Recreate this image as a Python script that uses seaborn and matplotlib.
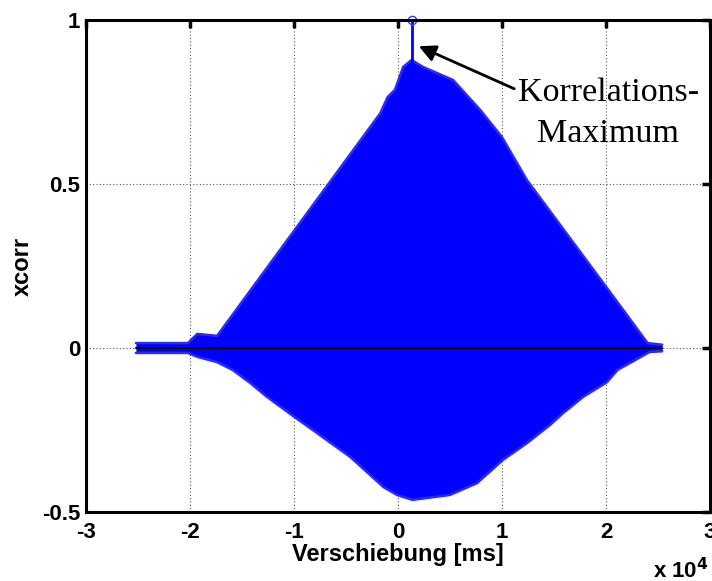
import numpy as np
import pandas as pd
import matplotlib
matplotlib.use("Agg")
import matplotlib.pyplot as plt
import seaborn as sns

# Envelope of the cross-correlation stem plot (x in samples/ms, y = xcorr)
upper_x = [-25200, -20200, -19300, -17400, -1700, -1000, -300, 500, 1300, 2400,
           5300, 7900, 10000, 12400, 21100, 24000, 25400]
upper_y = [0.015, 0.015, 0.043, 0.037, 0.716, 0.765, 0.787, 0.857, 0.878, 0.857,
           0.817, 0.726, 0.643, 0.512, 0.140, 0.015, 0.010]
lower_x = [-25200, -20200, -19300, -17400, -15900, -14200, -12600, -10100, -7800,
           -4600, -1400, -100, 1400, 5000, 7600, 10100, 12400, 14600, 15900, 17800,
           20100, 21100, 24200, 25400]
lower_y = [-0.015, -0.015, -0.027, -0.043, -0.067, -0.107, -0.149, -0.207, -0.259,
           -0.332, -0.424, -0.448, -0.463, -0.448, -0.412, -0.341, -0.290, -0.235,
           -0.198, -0.149, -0.104, -0.067, -0.012, -0.010]
peak_x = [1350]
peak_y = [1.0]
x_ticks = [-30000, -20000, -10000, 0, 10000, 20000, 30000]
x_tick_labels = ["-3", "-2", "-1", "0", "1", "2", "3"]
y_ticks = [-0.5, 0, 0.5, 1]
y_tick_labels = ["-0.5", "0", "0.5", "1"]

sns.set_style("white")
plt.rcParams['font.family'] = ['Liberation Sans', 'DejaVu Sans']
plt.rcParams['text.color'] = 'black'
plt.rcParams['axes.labelcolor'] = 'black'
plt.rcParams['xtick.color'] = 'black'
plt.rcParams['ytick.color'] = 'black'

fig = plt.figure(figsize=(7.12, 5.81), dpi=100)
ax = fig.add_axes([86/712, 69/581, 624/712, 492/581])

blue = "#0000ff"
xs = np.array(sorted(set(upper_x) | set(lower_x)), dtype=float)
up = np.interp(xs, upper_x, upper_y)
lo = np.interp(xs, lower_x, lower_y)
ax.fill_between(xs, lo, up, color=blue, linewidth=0, zorder=2)

df_up = pd.DataFrame({"x": upper_x, "y": upper_y})
df_lo = pd.DataFrame({"x": lower_x, "y": lower_y})
sns.lineplot(data=df_up, x="x", y="y", ax=ax, color="#2a2aff", linewidth=1.8, zorder=2)
sns.lineplot(data=df_lo, x="x", y="y", ax=ax, color="#2a2aff", linewidth=1.8, zorder=2)

# peak stem
ax.plot([peak_x[0], peak_x[0]], [0.85, peak_y[0]], color=blue, lw=2, zorder=3)
ax.plot(peak_x, peak_y, marker="o", mfc="none", mec="#3a3aff", ms=6, mew=1, zorder=4,
        clip_on=False)

# baseline
ax.plot([upper_x[0], upper_x[-1]], [0, 0], color="black", lw=1.5, zorder=3)

ax.set_xlim(-30000, 30000)
ax.set_ylim(-0.5, 1)
ax.set_xticks(x_ticks)
ax.set_xticklabels(x_tick_labels)
ax.set_yticks(y_ticks)
ax.set_yticklabels(y_tick_labels)
ax.grid(True, color="#555555", linestyle=(0, (1, 2)), linewidth=0.8, zorder=1)
ax.set_axisbelow(True)
ax.tick_params(direction="in", length=6, width=2.5, top=True, right=True,
               labelsize=16, color="black", labelcolor="black")
ax.tick_params(axis="x", pad=7)
ax.tick_params(axis="y", pad=4)
for lab in ax.get_xticklabels() + ax.get_yticklabels():
    lab.set_fontweight("bold")
for s in ax.spines.values():
    s.set_linewidth(2.2)
    s.set_color("black")
    s.set_zorder(5)

ax.set_xlabel("Verschiebung [ms]", fontsize=17, fontweight="bold", labelpad=0,
              color="black")
ax.set_ylabel("xcorr", fontsize=17, fontweight="bold", labelpad=6, color="black")
fig.text(653/712, 3/581, r"x 10$^{\mathbf{4}}$", fontsize=16, fontweight="bold",
         va="baseline", ha="left", color="black")

ax.annotate("Korrelations-\nMaximum", xy=(2000, 0.92), xytext=(20200, 0.716),
            ha="center", va="center", fontsize=24.5, family=["Liberation Serif"],
            linespacing=1.45, color="black",
            arrowprops=dict(arrowstyle="-|>", color="black", lw=2, mutation_scale=25,
                            shrinkA=0, shrinkB=0,
                            relpos=(0.0, 0.82)),
            zorder=6)

fig.savefig("out.png", dpi=100)
